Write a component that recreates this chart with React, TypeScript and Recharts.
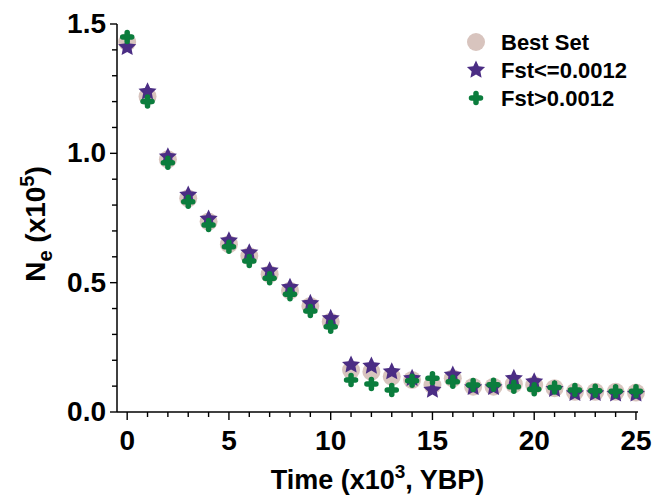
import { ScatterChart, Scatter, XAxis, YAxis } from "recharts";

// Time points (x10^3 years before present)
const times = [0, 1, 2, 3, 4, 5, 6, 7, 8, 9, 10, 11, 12, 13, 14, 15, 16, 17, 18, 19, 20, 21, 22, 23, 24, 25];

// Ne (x10^5) per series
const bestSet = [1.43, 1.22, 0.977, 0.826, 0.736, 0.649, 0.603, 0.533, 0.469, 0.41, 0.349, 0.162, 0.156, 0.137, 0.124, 0.104, 0.13, 0.098, 0.098, 0.108, 0.104, 0.092, 0.078, 0.078, 0.078, 0.075];
const fstLow = [1.41, 1.238, 0.987, 0.839, 0.746, 0.662, 0.616, 0.546, 0.482, 0.42, 0.362, 0.182, 0.178, 0.156, 0.13, 0.085, 0.143, 0.095, 0.095, 0.13, 0.117, 0.088, 0.072, 0.072, 0.07, 0.07];
const fstHigh = [1.45, 1.2, 0.964, 0.813, 0.723, 0.639, 0.584, 0.517, 0.455, 0.39, 0.33, 0.124, 0.108, 0.085, 0.121, 0.13, 0.117, 0.104, 0.105, 0.098, 0.088, 0.095, 0.085, 0.082, 0.08, 0.08];

const xTicks = [0, 1, 2, 3, 4, 5, 6, 7, 8, 9, 10, 11, 12, 13, 14, 15, 16, 17, 18, 19, 20, 21, 22, 23, 24, 25];
const yTicks = [0, 0.1, 0.2, 0.3, 0.4, 0.5, 0.6, 0.7, 0.8, 0.9, 1.0, 1.1, 1.2, 1.3, 1.4, 1.5];

const FONT = "'Liberation Sans', Arial, sans-serif";
const CIRCLE = "#d8c4be";
const PURPLE = "#4b2d84";
const GREEN = "#0b7d3d";

const toPoints = (ys: number[]) => times.map((x, i) => ({ x, y: ys[i] }));

function starPath(cx: number, cy: number, outer: number, inner: number) {
  let d = "";
  for (let i = 0; i < 10; i++) {
    const r = i % 2 === 0 ? outer : inner;
    const a = -Math.PI / 2 + (i * Math.PI) / 5;
    d += (i === 0 ? "M" : "L") + (cx + r * Math.cos(a)).toFixed(2) + "," + (cy + r * Math.sin(a)).toFixed(2);
  }
  return d + "Z";
}

const CircleShape = (p: any) => <circle cx={p.cx} cy={p.cy} r={9} fill={CIRCLE} />;
const StarShape = (p: any) => <path d={starPath(p.cx, p.cy, 9.5, 4.6)} fill={PURPLE} />;
const PlusShape = (p: any) => (
  <g stroke={GREEN} strokeWidth={5.5} strokeLinecap="round">
    <line x1={p.cx - 4.5} y1={p.cy} x2={p.cx + 4.5} y2={p.cy} />
    <line x1={p.cx} y1={p.cy - 4.5} x2={p.cx} y2={p.cy + 4.5} />
  </g>
);

const XTick = (p: any) => {
  const v = p.payload.value;
  const major = v % 5 === 0;
  return (
    <g>
      <line x1={p.x} y1={p.y} x2={p.x} y2={p.y + (major ? 8 : 5)} stroke="#000" strokeWidth={1.4} />
      {major && (
        <text x={p.x} y={p.y + 38} textAnchor="middle" fontFamily={FONT} fontWeight="bold" fontSize={28} fill="#000">
          {v}
        </text>
      )}
    </g>
  );
};

const YTick = (p: any) => {
  const v = p.payload.value;
  const major = Math.abs(v * 2 - Math.round(v * 2)) < 1e-6;
  return (
    <g>
      <line x1={p.x - (major ? 7 : 5)} y1={p.y} x2={p.x} y2={p.y} stroke="#000" strokeWidth={1.4} />
      {major && (
        <text x={p.x - 11} y={p.y + 9} textAnchor="end" fontFamily={FONT} fontWeight="bold" fontSize={28} fill="#000">
          {v.toFixed(1)}
        </text>
      )}
    </g>
  );
};

const legendItems = [
  { name: "Best Set", kind: "circle" },
  { name: "Fst<=0.0012", kind: "star" },
  { name: "Fst>0.0012", kind: "plus" },
];

const LegendBox = () => (
  <svg width={190} height={90} style={{ position: "absolute", left: 460, top: 28 }}>
    {legendItems.map((it, i) => {
      const cy = 14 + i * 28;
      return (
        <g key={it.name}>
          {it.kind === "circle" && <CircleShape cx={16} cy={cy} />}
          {it.kind === "star" && <StarShape cx={16} cy={cy} />}
          {it.kind === "plus" && <PlusShape cx={16} cy={cy} />}
          <text x={41} y={cy + 8} fontFamily={FONT} fontWeight="bold" fontSize={22} fill="#000">
            {it.name}
          </text>
        </g>
      );
    })}
  </svg>
);

export default function App() {
  return (
    <div style={{ position: "absolute", left: 0, top: 0, width: 654, height: 500, background: "#fff" }}>
      <ScatterChart width={654} height={500} margin={{ top: 24, right: 16, bottom: 0, left: 0 }}>
        <XAxis
          type="number"
          dataKey="x"
          domain={[-0.5, 25.1]}
          ticks={xTicks}
          interval={0}
          tickSize={0}
          tickMargin={0}
          tick={<XTick />}
          height={88}
          axisLine={{ stroke: "#000", strokeWidth: 1.5 }}
          label={{
            content: (lp: any) => {
              const vb = lp.viewBox;
              return (
                <text x={vb.x + vb.width / 2} y={vb.y + 77} textAnchor="middle" fontFamily={FONT} fontWeight="bold" fontSize={27} fill="#000">
                  Time (x10<tspan dy={-11} fontSize={19}>3</tspan>
                  <tspan dy={11}>, YBP)</tspan>
                </text>
              );
            },
          }}
        />
        <YAxis
          type="number"
          dataKey="y"
          domain={[0, 1.5]}
          ticks={yTicks}
          interval={0}
          tickSize={0}
          tickMargin={0}
          tick={<YTick />}
          width={117}
          axisLine={{ stroke: "#000", strokeWidth: 1.5 }}
          label={{
            content: (lp: any) => {
              const vb = lp.viewBox;
              const cx = 45;
              const cy = vb.y + vb.height / 2 + 6;
              return (
                <text x={cx} y={cy} transform={`rotate(-90 ${cx} ${cy})`} textAnchor="middle" fontFamily={FONT} fontWeight="bold" fontSize={28} fill="#000">
                  N<tspan dy={7} fontSize={20}>e</tspan>
                  <tspan dy={-7}> (x10</tspan>
                  <tspan dy={-11} fontSize={20}>5</tspan>
                  <tspan dy={11}>)</tspan>
                </text>
              );
            },
          }}
        />
        <Scatter name="Best Set" data={toPoints(bestSet)} shape={CircleShape} isAnimationActive={false} />
        <Scatter name="Fst<=0.0012" data={toPoints(fstLow)} shape={StarShape} isAnimationActive={false} />
        <Scatter name="Fst>0.0012" data={toPoints(fstHigh)} shape={PlusShape} isAnimationActive={false} />
      </ScatterChart>
      <LegendBox />
    </div>
  );
}
